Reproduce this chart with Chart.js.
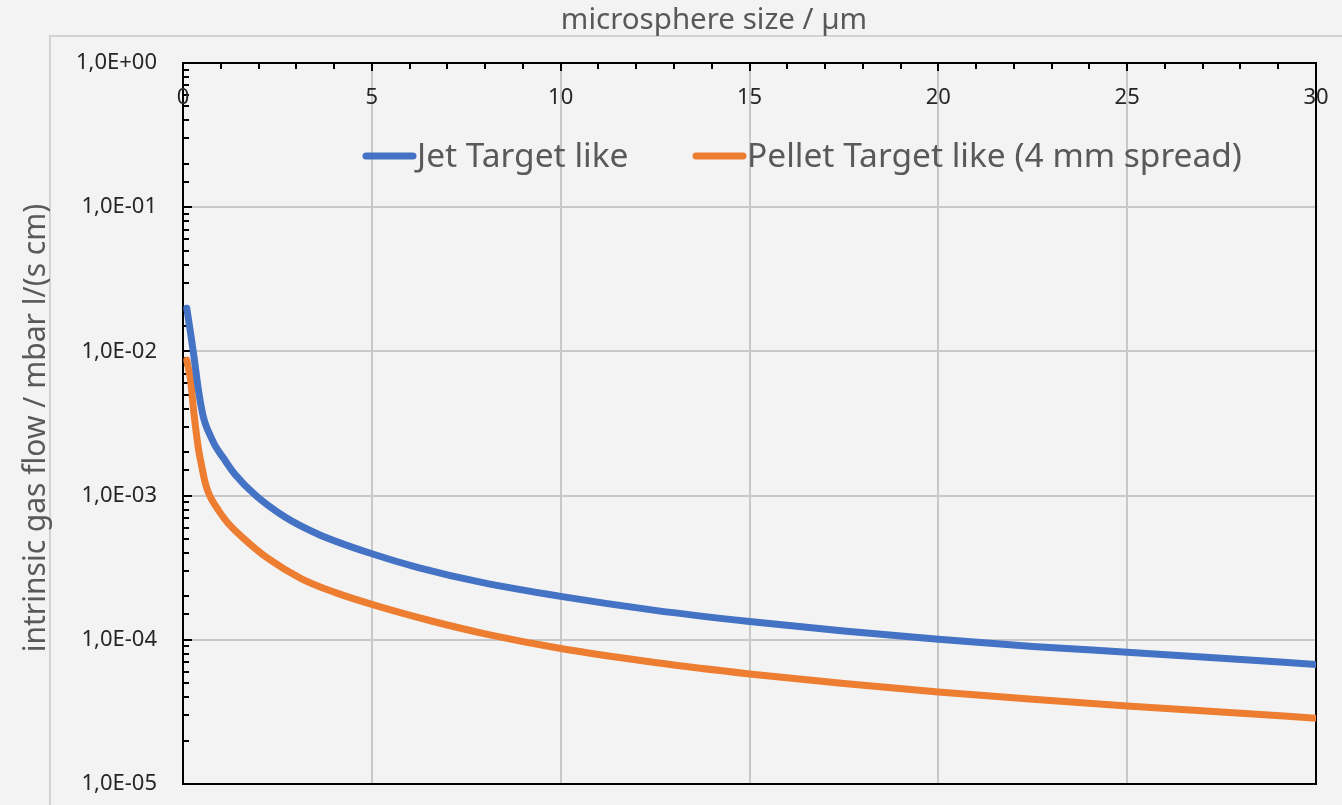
<!DOCTYPE html>
<html>
<head>
<meta charset="utf-8">
<script src="https://cdn.jsdelivr.net/npm/chart.js@4.4.0/dist/chart.umd.min.js"></script>
<style>
  html, body { margin: 0; padding: 0; background: #f3f3f3; overflow: hidden; }
  #wrap { position: relative; width: 1342px; height: 805px; }
  #frame { position: absolute; left: 49px; top: 35px; width: 1400px; height: 900px;
           border: 2px solid #d3d3d3; box-sizing: border-box; }
  #c { position: absolute; left: 0; top: 0; }
</style>
</head>
<body>
<div id="wrap">
  <div id="frame"></div>
  <canvas id="c" width="1342" height="805"></canvas>
</div>
<script>
// series (x in µm, flow in mbar l/(s cm))
const seriesNames = ['Jet Target like', 'Pellet Target like (4 mm spread)'];
const seriesColors = ['#4472c4', '#ed7d31'];

const jetX = [0.1, 0.2, 0.29, 0.4, 0.47, 0.54, 0.62, 0.71, 0.85, 1.07, 1.38, 1.91, 2.7, 3.58, 5,
              6.23, 7.91, 10, 12.5, 15, 17.5, 20, 22.5, 25, 27.5, 30];
const jetY = [0.0199, 0.0134, 0.0092, 0.0056, 0.0043, 0.0035, 0.003, 0.00265, 0.00222, 0.00182,
              0.0014, 0.00101, 0.00071, 0.00054, 0.000395, 0.000317, 0.00025, 0.0002, 0.00016,
              0.000134, 0.000115, 0.000101, 0.00009, 0.000082, 0.0000745, 0.0000675];

const pelletX = [0.1, 0.2, 0.29, 0.41, 0.5, 0.58, 0.66, 0.75, 0.94, 1.2, 1.55, 2.26, 3.14, 4, 5,
                 6.58, 8, 10, 12.5, 15, 17.5, 20, 22.5, 25, 27.5, 30];
const pelletY = [0.0087, 0.0063, 0.0037, 0.0021, 0.00158, 0.00125, 0.00107, 0.00095, 0.00079,
                 0.00064, 0.00052, 0.000365, 0.000265, 0.000214, 0.000176, 0.000135, 0.00011,
                 0.000087, 0.0000696, 0.000058, 0.0000497, 0.0000435, 0.0000387, 0.0000348,
                 0.0000316, 0.0000286];

const xTickValues = [0, 5, 10, 15, 20, 25, 30];
const yTickValues = [1, 1e-1, 1e-2, 1e-3, 1e-4, 1e-5];
const xTitle = 'microsphere size / µm';
const yTitle = 'intrinsic gas flow / mbar l/(s cm)';

const FONT = '"Noto Sans", "Open Sans", sans-serif';

function isDecade(v) {
  const l = Math.log10(v);
  return Math.abs(l - Math.round(l)) < 1e-9;
}

// 1,0E-04 style labels
function sciLabel(v) {
  const e = Math.round(Math.log10(v));
  const m = (v / Math.pow(10, e)).toFixed(1).replace('.', ',');
  const sign = e < 0 ? '-' : '+';
  return m + 'E' + sign + String(Math.abs(e)).padStart(2, '0');
}

const pts = (xs, ys) => xs.map((x, i) => ({ x: x, y: ys[i] }));

const decorations = {
  id: 'decorations',
  beforeDatasetsDraw(chart) {
    const { ctx, chartArea: a, scales: { x, y } } = chart;
    ctx.save();
    ctx.strokeStyle = '#000';
    ctx.lineWidth = 2;
    ctx.strokeRect(a.left, a.top, a.right - a.left, a.bottom - a.top);

    ctx.beginPath();
    // tick marks under the top axis, one per µm
    for (let v = Math.ceil(x.min); v <= x.max; v++) {
      const px = Math.round(x.getPixelForValue(v));
      const len = v % 5 === 0 ? 8 : 6;
      ctx.moveTo(px, a.top);
      ctx.lineTo(px, a.top + len);
    }
    // log minor ticks on the left axis
    y.ticks.forEach(t => {
      const py = Math.round(y.getPixelForValue(t.value));
      const len = isDecade(t.value) ? 9 : 6;
      ctx.moveTo(a.left, py);
      ctx.lineTo(a.left + len, py);
    });
    ctx.stroke();
    ctx.restore();
  },
  afterDraw(chart) {
    const { ctx, chartArea: a, scales: { x, y } } = chart;
    ctx.save();

    // x tick labels sit inside the plot, under the top axis
    ctx.fillStyle = '#262626';
    ctx.font = '22px ' + FONT;
    ctx.textAlign = 'center';
    ctx.textBaseline = 'middle';
    xTickValues.forEach(v => {
      ctx.fillText(String(v), x.getPixelForValue(v), a.top + 35);
    });

    // y tick labels
    ctx.font = '22px ' + FONT;
    ctx.textAlign = 'right';
    yTickValues.forEach(v => {
      ctx.fillText(sciLabel(v), a.left - 26, y.getPixelForValue(v));
    });

    // axis titles
    ctx.fillStyle = '#595959';
    ctx.font = '29.5px ' + FONT;
    ctx.textAlign = 'center';
    ctx.fillText(xTitle, 714, 21);
    ctx.save();
    ctx.translate(36, 428);
    ctx.rotate(-Math.PI / 2);
    ctx.font = '30px ' + FONT;
    ctx.fillText(yTitle, 0, 0);
    ctx.restore();

    // legend inside the plot
    const legendY = 156;
    const legendX = [363, 693];
    ctx.font = '33.5px ' + FONT;
    ctx.textAlign = 'left';
    chart.data.datasets.forEach((ds, i) => {
      ctx.strokeStyle = ds.borderColor;
      ctx.lineWidth = 7;
      ctx.lineCap = 'round';
      ctx.beginPath();
      ctx.moveTo(legendX[i] + 3, legendY);
      ctx.lineTo(legendX[i] + 50, legendY);
      ctx.stroke();
      ctx.fillStyle = '#595959';
      ctx.fillText(ds.label, legendX[i] + 54, legendY + 1);
    });
    ctx.restore();
  }
};

new Chart(document.getElementById('c'), {
  type: 'scatter',
  data: {
    datasets: [
      { label: seriesNames[0], data: pts(jetX, jetY), borderColor: seriesColors[0] },
      { label: seriesNames[1], data: pts(pelletX, pelletY), borderColor: seriesColors[1] }
    ].map(d => Object.assign(d, {
      showLine: true, borderWidth: 7, pointRadius: 0, fill: false,
      cubicInterpolationMode: 'monotone', borderCapStyle: 'round', borderJoinStyle: 'round'
    }))
  },
  options: {
    responsive: false,
    animation: false,
    layout: { padding: { left: 183, top: 63, right: 26, bottom: 21 } },
    plugins: { legend: { display: false }, tooltip: { enabled: false } },
    scales: {
      x: {
        type: 'linear', position: 'top', min: 0, max: 30,
        ticks: { display: false, stepSize: 5 },
        grid: { color: '#c8c8c8', lineWidth: 2, drawTicks: false },
        border: { display: false }
      },
      y: {
        type: 'logarithmic', min: 1e-5, max: 1,
        ticks: { display: false, autoSkip: false },
        grid: {
          drawTicks: false, lineWidth: 2,
          color: c => (c.tick && isDecade(c.tick.value)) ? '#c8c8c8' : 'rgba(0,0,0,0)'
        },
        border: { display: false }
      }
    }
  },
  plugins: [decorations]
});
</script>
</body>
</html>
